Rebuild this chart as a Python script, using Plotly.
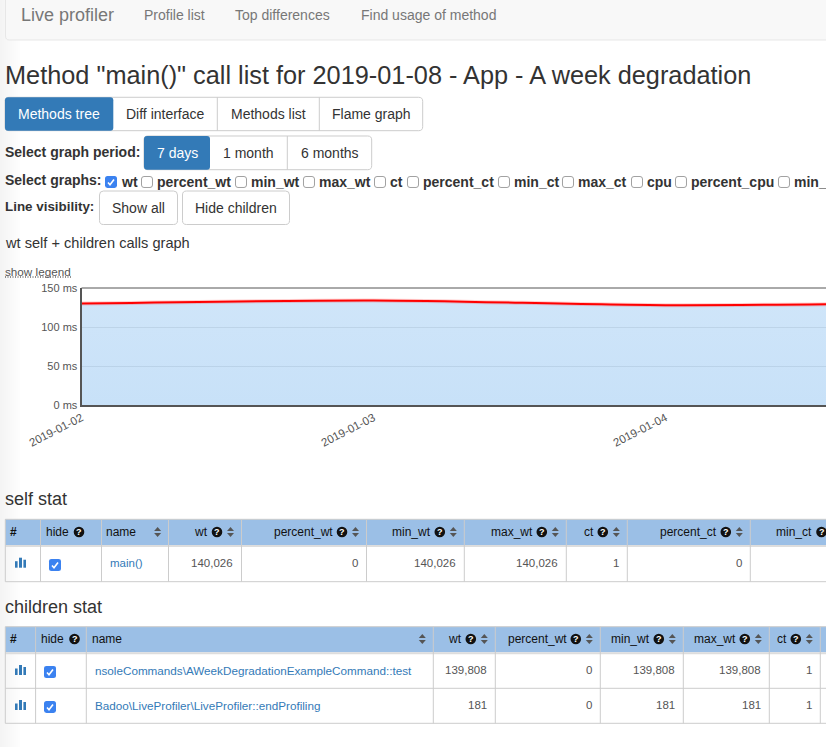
import plotly.graph_objects as go
import datetime as _dt

W, H = 826, 747
FONT = "Liberation Sans"

# ---- chart data
dates = ["2019-01-02", "2019-01-03", "2019-01-04", "2019-01-05"]
wt_ms = [130, 134, 128, 131]
y_ticks = [0, 50, 100, 150]
y_tick_labels = ["0 ms", "50 ms", "100 ms", "150 ms"]

# ---- page texts
nav_items = ["Profile list", "Top differences", "Find usage of method"]
tab_labels = ["Methods tree", "Diff interface", "Methods list", "Flame graph"]
period_labels = ["7 days", "1 month", "6 months"]
graph_names = ["wt", "percent_wt", "min_wt", "max_wt", "ct", "percent_ct", "min_ct", "max_ct",
               "cpu", "percent_cpu", "min_"]
visibility_labels = ["Show all", "Hide children"]

# ---- tables
self_headers = ["wt", "percent_wt", "min_wt", "max_wt", "ct", "percent_ct", "min_ct"]
self_values = ["140,026", "0", "140,026", "140,026", "1", "0"]
self_name = "main()"
child_headers = ["wt", "percent_wt", "min_wt", "max_wt", "ct"]
child_names = ["nsoleCommands\\AWeekDegradationExampleCommand::test",
               "Badoo\\LiveProfiler\\LiveProfiler::endProfiling"]
child_values = [["139,808", "0", "139,808", "139,808", "1"],
                ["181", "0", "181", "181", "1"]]

# ---- styles and layout (page pixels)
BLUE, LINK, HEAD, BORDER = "#337ab7", "#337ab7", "#9bbfe6", "#cccccc"
CHECK = "#3b82f0"
PLOT_L, PLOT_T, PLOT_B = 81.5, 288, 405
PX_PER_DAY = 292

shapes, notes = [], []
px = lambda x: x / W
py = lambda y: 1 - y / H


def rect(x0, y0, x1, y1, fill, line=None, lw=1, layer="above"):
    shapes.append(dict(type="rect", xref="paper", yref="paper", x0=px(x0), x1=px(x1), y0=py(y0), y1=py(y1),
                       fillcolor=fill, line=dict(color=line or fill, width=lw if line else 0), layer=layer))


def hline(x0, x1, y, color=BORDER, lw=1, dash="solid"):
    shapes.append(dict(type="line", xref="paper", yref="paper", x0=px(x0), x1=px(x1), y0=py(y), y1=py(y),
                       line=dict(color=color, width=lw, dash=dash)))


def vline(x, y0, y1, color=BORDER, lw=1):
    shapes.append(dict(type="line", xref="paper", yref="paper", x0=px(x), x1=px(x), y0=py(y0), y1=py(y1),
                       line=dict(color=color, width=lw)))


def path(points, fill=None, line=None, lw=1):
    d = ""
    for cmd, *coords in points:
        d += cmd
        d += " ".join(f"{px(coords[i]):.5f},{py(coords[i + 1]):.5f}" for i in range(0, len(coords), 2)) + " "
    shapes.append(dict(type="path", xref="paper", yref="paper", path=d.strip(),
                       fillcolor=fill or "rgba(0,0,0,0)", line=dict(color=line or "rgba(0,0,0,0)", width=lw)))


def round_rect(x0, y0, x1, y1, r, fill, line=None, lw=1):
    path([("M", x0 + r, y0), ("L", x1 - r, y0), ("Q", x1, y0, x1, y0 + r), ("L", x1, y1 - r),
          ("Q", x1, y1, x1 - r, y1), ("L", x0 + r, y1), ("Q", x0, y1, x0, y1 - r), ("L", x0, y0 + r),
          ("Q", x0, y0, x0 + r, y0), ("Z",)], fill, line, lw)


def text(x, y, s, size=14, color="#333333", bold=False, anchor="left"):
    notes.append(dict(xref="paper", yref="paper", x=px(x), y=py(y), text=f"<b>{s}</b>" if bold else s,
                      showarrow=False, xanchor=anchor, yanchor="middle", borderpad=0, borderwidth=0,
                      font=dict(family=FONT, size=size, color=color)))


def checkbox(x, cy, checked):
    if checked:
        round_rect(x, cy - 6, x + 12, cy + 6, 2.5, CHECK)
        path([("M", x + 3, cy + 0.5), ("L", x + 5, cy + 2.8), ("L", x + 9, cy - 2.5)], line="white", lw=1.6)
    else:
        round_rect(x + 0.5, cy - 5.5, x + 11.5, cy + 5.5, 2.5, "white", "#8a8a8a", 0.8)


def button_group(edges, y0, y1, labels, active=0):
    round_rect(edges[0], y0, edges[-1], y1, 4, "white", BORDER, 1)
    for i, lab in enumerate(labels):
        if i == active:
            round_rect(edges[i], y0, edges[i + 1], y1, 3, BLUE)
        elif i > 0 and i - 1 != active:
            vline(edges[i], y0, y1)
        text((edges[i] + edges[i + 1]) / 2, (y0 + y1) / 2, lab, 14, "white" if i == active else "#333333",
             anchor="center")


def help_icon(cx, cy):
    shapes.append(dict(type="circle", xref="paper", yref="paper", x0=px(cx - 5.3), x1=px(cx + 5.3),
                       y0=py(cy + 5.3), y1=py(cy - 5.3), fillcolor="#111111", line=dict(width=0)))
    text(cx, cy + 0.3, "?", 9, "white", True, "center")


def sort_icon(cx, cy):
    path([("M", cx - 3.5, cy - 1), ("L", cx + 3.5, cy - 1), ("L", cx, cy - 5), ("Z",)], fill="#555555")
    path([("M", cx - 3.5, cy + 1), ("L", cx + 3.5, cy + 1), ("L", cx, cy + 5), ("Z",)], fill="#555555")


def bars_icon(cy):
    rect(15, cy - 1.5, 17.6, cy + 5, BLUE)
    rect(19, cy - 5, 22, cy + 5, BLUE)
    rect(23.4, cy - 3, 26, cy + 5, BLUE)


def table_frame(top, head_bottom, rows, edges):
    rect(edges[0], top, W + 5, head_bottom, HEAD)
    rect(edges[0], head_bottom, W + 5, head_bottom + 2, "#dddddd")
    hline(edges[0], W + 5, top, BORDER)
    for r in rows:
        hline(edges[0], W + 5, r, BORDER)
    for e in edges:
        vline(e, top, rows[-1], BORDER)


def value_headers(names, right_edges, cy):
    for name, r in zip(names, right_edges):
        text(r - 33.7, cy, name, 12, "#111111", anchor="right")
        help_icon(r - 24.5, cy)
        sort_icon(r - 11, cy)


# left edge page shade
for i in range(10):
    v = 244 + i
    rect(i * 2, 0, i * 2 + 2, H, f"rgb({v},{v},{v})", layer="below")

# navbar
round_rect(5.5, -6, W + 6, 40, 4, "#f8f8f8", "#e7e7e7", 1)
text(21, 15, "Live profiler", 18, "#777777")
for x, lab in zip([144, 235, 361], nav_items):
    text(x, 15, lab, 14, "#777777")

text(5, 75, 'Method "main()" call list for 2019-01-08 - App - A week degradation', 25.3, "#333333")

button_group([5, 113.3, 217.3, 319.3, 422.7], 97.3, 130.7, tab_labels)

text(5, 152, "Select graph period:", 14, bold=True)
button_group([144, 210, 287.3, 371.7], 136, 169.7, period_labels)

text(5, 180, "Select graphs:", 14, bold=True)
check_x = [105, 141, 235, 303, 374, 407, 498, 562, 631, 675, 778]
for i, (x, name) in enumerate(zip(check_x, graph_names)):
    checkbox(x, 182, i == 0)
    text(x + 16, 181.5, name, 14, bold=True)

text(5, 206.5, "Line visibility:", 13.4, bold=True)
for (a, b), lab in zip([(99.5, 177.5), (182.5, 289.5)], visibility_labels):
    round_rect(a, 191, b, 224.5, 4, "white", BORDER, 1)
    text((a + b) / 2, 207.5, lab, 14, anchor="center")

text(5, 243, "wt self + children calls graph", 14.6, "#333333")
text(5, 271, "show legend", 11.7, "#555555")
hline(5, 71, 277, "#222222", 1, "1px,1.5px")

# chart frame top
hline(PLOT_L, W, PLOT_T, "#555555", 1)

# self stat
text(5, 499, "self stat", 18, "#333333")
s_edges = [5.3, 40.5, 101.5, 168.5, 241.5, 366.5, 464.3, 566.3, 627.3, 750.3]
s_rights = s_edges[4:] + [846]
table_frame(519.3, 545, [581.7], s_edges)
text(10, 532, "#", 12, "#111111", True)
text(45.5, 532, "hide", 12, "#111111")
help_icon(79, 532)
text(106, 532, "name", 12, "#111111")
sort_icon(157.6, 532)
value_headers(self_headers, s_rights, 532)
bars_icon(562.7)
checkbox(49, 565, True)
text(110, 563, self_name, 11.5, LINK)
for v, r in zip(self_values, s_rights):
    text(r - 8.8, 563, v, 11.5, "#555555", anchor="right")

# children stat
text(5, 607, "children stat", 18, "#333333")
c_edges = [5.3, 35.6, 86.3, 433.3, 495.3, 600.3, 683.3, 769.3, 820.3]
c_rights = c_edges[4:]
c_rows = [670, 705]
table_frame(626.7, 652.3, [688.3, 723.3], c_edges)
text(10, 639, "#", 12, "#111111", True)
text(40.5, 639, "hide", 12, "#111111")
help_icon(74.5, 639)
text(91.5, 639, "name", 12, "#111111")
sort_icon(422.3, 639)
value_headers(child_headers, c_rights, 639)
for cy, nm, vals in zip(c_rows, child_names, child_values):
    bars_icon(cy)
    checkbox(44, cy + 2, True)
    text(95, cy, nm, 11.7, LINK)
    for v, r in zip(vals, c_rights):
        text(r - 8.8, cy, v, 11.5, "#555555", anchor="right")

fig = go.Figure()
fig.add_trace(go.Scatter(
    x=dates, y=wt_ms, mode="lines", fill="tozeroy",
    fillgradient=dict(type="vertical", colorscale=[[0, "rgba(135,190,240,0.46)"], [1, "rgba(135,190,240,0.40)"]]),
    line=dict(color="rgba(255,0,0,0.18)", width=4, shape="spline", smoothing=0.8),
    hoverinfo="skip", showlegend=False))
fig.add_trace(go.Scatter(
    x=dates, y=wt_ms, mode="lines", line=dict(color="#ff0000", width=2, shape="spline", smoothing=0.8),
    showlegend=False))

days_shown = (W - PLOT_L) / PX_PER_DAY
range_end = (_dt.datetime(2019, 1, 2) + _dt.timedelta(days=days_shown)).strftime("%Y-%m-%d %H:%M:%S")

fig.update_layout(
    width=W, height=H, margin=dict(l=0, r=0, t=0, b=0, autoexpand=False), autosize=False,
    paper_bgcolor="white", plot_bgcolor="white", shapes=shapes, annotations=notes,
    font=dict(family=FONT, size=11, color="#555555"), showlegend=False,
    xaxis=dict(domain=[px(PLOT_L), 1], type="date", range=["2019-01-02", range_end], dtick=86400000,
               tick0="2019-01-02", tickformat="%Y-%m-%d", tickangle=-27, showgrid=False, showline=True,
               linecolor="#555555", linewidth=2, ticks="", zeroline=False,
               tickfont=dict(family=FONT, size=11.5, color="#555555")),
    yaxis=dict(domain=[py(PLOT_B), py(PLOT_T)], range=[0, 150], tickvals=y_ticks, ticktext=y_tick_labels,
               showgrid=True, gridcolor="#e3e3e3", gridwidth=1, showline=True, linecolor="#555555", linewidth=2,
               ticks="", zeroline=False, tickfont=dict(family=FONT, size=11, color="#555555")),
)
fig.write_html("out.html", config=dict(displayModeBar=False),
               post_script="document.body.style.margin='0';document.documentElement.style.overflow='hidden';")
